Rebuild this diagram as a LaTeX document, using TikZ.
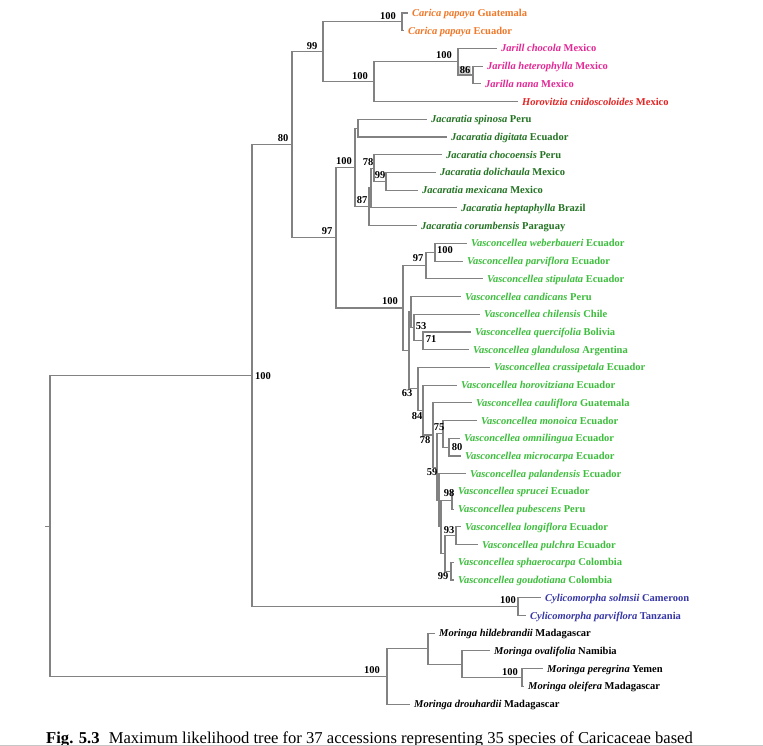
\documentclass[tikz,border=0pt]{standalone}
\usepackage{fontspec}
\setmainfont{Liberation Serif}
\definecolor{carica}{RGB}{240,120,40}
\definecolor{jarilla}{RGB}{228,40,150}
\definecolor{horo}{RGB}{228,35,35}
\definecolor{jacar}{RGB}{35,115,35}
\definecolor{vasc}{RGB}{60,190,60}
\definecolor{cyli}{RGB}{55,55,165}
\definecolor{branch}{RGB}{130,130,130}
\newcommand{\lf}[6]{%
  \coordinate (#1) at (#3,#4);
  \draw[br] (#2) |- (#1);
  \node[leaf,text=#5] (t#1) at ([xshift=4pt,yshift=-3.5pt]#1) {#6};}
\begin{document}
\begin{tikzpicture}[x=1pt,y=-1pt,
  br/.style={draw=branch,line width=1.1pt},
  leaf/.style={anchor=base west,inner sep=0pt,font=\fontsize{10.5}{12}\selectfont\bfseries},
  bs/.style={inner sep=0pt,font=\fontsize{10.5}{12}\selectfont\bfseries}]
\useasboundingbox (0,0) rectangle (763,746);
\fill[white] (0,0) rectangle (763,746);
% internal nodes
\coordinate (Root) at (50,526.1);
\coordinate (Stub) at (45,526.1);
\coordinate (Ing) at (252,375.7);
\coordinate (N80) at (292,144.8);
\coordinate (N99) at (323,51.8);
\coordinate (Car) at (402,21.9);
\coordinate (JH) at (374,81.7);
\coordinate (Jar) at (458,61.7);
\coordinate (J86) at (473,75.0);
\coordinate (N97) at (336,237.8);
\coordinate (Jac) at (355,167.5);
\coordinate (JacA) at (358,128.2);
\coordinate (J87) at (369,206.8);
\coordinate (JacB) at (371,188.0);
\coordinate (J78) at (374,168.1);
\coordinate (J99) at (386,181.3);
\coordinate (V100) at (403,308.0);
\coordinate (V97) at (426,265.5);
\coordinate (V100b) at (435,252.3);
\coordinate (Vg) at (409,350.4);
\coordinate (VA) at (411,312.0);
\coordinate (V53) at (414,327.6);
\coordinate (V71) at (423,340.9);
\coordinate (V63) at (418,388.8);
\coordinate (V84) at (423,410.1);
\coordinate (V78) at (433,435.0);
\coordinate (V59) at (437,467.1);
\coordinate (V75) at (443,433.9);
\coordinate (V80) at (449,447.2);
\coordinate (Vx) at (439,500.3);
\coordinate (Vb) at (441,526.9);
\coordinate (V98) at (452,500.3);
\coordinate (Va) at (445,553.5);
\coordinate (V93) at (456,535.8);
\coordinate (V99) at (451,571.2);
\coordinate (Cyl) at (518,606.7);
\coordinate (Mor) at (387,676.4);
\coordinate (M428) at (428,648.7);
\coordinate (M462) at (462,664.2);
\coordinate (M522) at (522,677.5);
% internal connectors
\draw[br] (Stub) -- (Root);
\draw[br] (Root) |- (Ing);
\draw[br] (Root) |- (Mor);
\draw[br] (Ing) |- (N80);
\draw[br] (Ing) |- (Cyl);
\draw[br] (N80) |- (N99);
\draw[br] (N80) |- (N97);
\draw[br] (N99) |- (Car);
\draw[br] (N99) |- (JH);
\draw[br] (JH) |- (Jar);
\draw[br] (Jar) |- (J86);
\draw[br] (N97) |- (Jac);
\draw[br] (N97) |- (V100);
\draw[br] (Jac) |- (JacA);
\draw[br] (Jac) |- (J87);
\draw[br] (J87) |- (JacB);
\draw[br] (JacB) |- (J78);
\draw[br] (J78) |- (J99);
\draw[br] (V100) |- (V97);
\draw[br] (V100) |- (Vg);
\draw[br] (V97) |- (V100b);
\draw[br] (Vg) |- (VA);
\draw[br] (Vg) |- (V63);
\draw[br] (VA) |- (V53);
\draw[br] (V53) |- (V71);
\draw[br] (V63) |- (V84);
\draw[br] (V84) |- (V78);
\draw[br] (V78) |- (V59);
\draw[br] (V59) |- (V75);
\draw[br] (V75) |- (V80);
\draw[br] (V59) |- (Vx);
\draw[br] (Vx) |- (Vb);
\draw[br] (Vb) |- (V98);
\draw[br] (Vb) |- (Va);
\draw[br] (Va) |- (V93);
\draw[br] (Va) |- (V99);
\draw[br] (Mor) |- (M428);
\draw[br] (M428) |- (M462);
\draw[br] (M462) |- (M522);
% leaves
\lf{l1}{Car}{408}{13.0}{carica}{\textit{Carica papaya} Guatemala}
\lf{l2}{Car}{404}{30.7}{carica}{\textit{Carica papaya} Ecuador}
\lf{l3}{Jar}{497}{48.4}{jarilla}{\textit{Jarill chocola} Mexico}
\lf{l4}{J86}{483}{66.2}{jarilla}{\textit{Jarilla heterophylla} Mexico}
\lf{l5}{J86}{481}{83.9}{jarilla}{\textit{Jarilla nana} Mexico}
\lf{l6}{JH}{518}{101.6}{horo}{\textit{Horovitzia cnidoscoloides} Mexico}
\lf{l7}{JacA}{427}{119.3}{jacar}{\textit{Jacaratia spinosa} Peru}
\lf{l8}{JacA}{447}{137.0}{jacar}{\textit{Jacaratia digitata} Ecuador}
\lf{l9}{J78}{442}{154.8}{jacar}{\textit{Jacaratia chocoensis} Peru}
\lf{l10}{J99}{436}{172.5}{jacar}{\textit{Jacaratia dolichaula} Mexico}
\lf{l11}{J99}{418}{190.2}{jacar}{\textit{Jacaratia mexicana} Mexico}
\lf{l12}{JacB}{457}{207.9}{jacar}{\textit{Jacaratia heptaphylla} Brazil}
\lf{l13}{J87}{417}{225.6}{jacar}{\textit{Jacaratia corumbensis} Paraguay}
\lf{l14}{V100b}{467}{243.4}{vasc}{\textit{Vasconcellea weberbaueri} Ecuador}
\lf{l15}{V100b}{463}{261.1}{vasc}{\textit{Vasconcellea parviflora} Ecuador}
\lf{l16}{V97}{483}{278.8}{vasc}{\textit{Vasconcellea stipulata} Ecuador}
\lf{l17}{VA}{461}{296.5}{vasc}{\textit{Vasconcellea candicans} Peru}
\lf{l18}{V53}{480}{314.2}{vasc}{\textit{Vasconcellea chilensis} Chile}
\lf{l19}{V71}{471}{332.0}{vasc}{\textit{Vasconcellea quercifolia} Bolivia}
\lf{l20}{V71}{469}{349.7}{vasc}{\textit{Vasconcellea glandulosa} Argentina}
\lf{l21}{V63}{490}{367.4}{vasc}{\textit{Vasconcellea crassipetala} Ecuador}
\lf{l22}{V84}{457}{385.1}{vasc}{\textit{Vasconcellea horovitziana} Ecuador}
\lf{l23}{V78}{472}{402.8}{vasc}{\textit{Vasconcellea cauliflora} Guatemala}
\lf{l24}{V75}{477}{420.6}{vasc}{\textit{Vasconcellea monoica} Ecuador}
\lf{l25}{V80}{460}{438.3}{vasc}{\textit{Vasconcellea omnilingua} Ecuador}
\lf{l26}{V80}{461}{456.0}{vasc}{\textit{Vasconcellea microcarpa} Ecuador}
\lf{l27}{Vx}{466}{473.7}{vasc}{\textit{Vasconcellea palandensis} Ecuador}
\lf{l28}{V98}{454}{491.4}{vasc}{\textit{Vasconcellea sprucei} Ecuador}
\lf{l29}{V98}{454}{509.2}{vasc}{\textit{Vasconcellea pubescens} Peru}
\lf{l30}{V93}{461}{526.9}{vasc}{\textit{Vasconcellea longiflora} Ecuador}
\lf{l31}{V93}{478}{544.6}{vasc}{\textit{Vasconcellea pulchra} Ecuador}
\lf{l32}{V99}{454}{562.3}{vasc}{\textit{Vasconcellea sphaerocarpa} Colombia}
\lf{l33}{V99}{454}{580.0}{vasc}{\textit{Vasconcellea goudotiana} Colombia}
\lf{l34}{Cyl}{541}{597.8}{cyli}{\textit{Cylicomorpha solmsii} Cameroon}
\lf{l35}{Cyl}{526}{615.5}{cyli}{\textit{Cylicomorpha parviflora} Tanzania}
\lf{l36}{M428}{435}{633.2}{black}{\textit{Moringa hildebrandii} Madagascar}
\lf{l37}{M462}{490}{650.9}{black}{\textit{Moringa ovalifolia} Namibia}
\lf{l38}{M522}{543}{668.6}{black}{\textit{Moringa peregrina} Yemen}
\lf{l39}{M522}{524}{686.4}{black}{\textit{Moringa oleifera} Madagascar}
\lf{l40}{Mor}{410}{704.1}{black}{\textit{Moringa drouhardii} Madagascar}
% bootstrap values
\node[bs,anchor=west] (bIng) at ([xshift=3pt]Ing) {100};
\node[bs] (b80) at (283,138) {80};
\node[bs] (b99) at (312,46) {99};
\node[bs] (b97) at (327,231) {97};
\node[bs] (bCar) at (388,16) {100};
\node[bs] (bJH) at (360,76) {100};
\node[bs] (bJar) at (444,55) {100};
\node[bs,fill=gray!35,inner sep=0.6pt] (b86) at (465,70) {86};
\node[bs] (bJac) at (344,161) {100};
\node[bs] (bJ78) at (368,162) {78};
\node[bs] (bJ99) at (380,175) {99};
\node[bs] (bJ87) at (362,200) {87};
\node[bs] (bV100) at (390,301) {100};
\node[bs] (bV97) at (418,258) {97};
\node[bs] (bV100b) at (445,250) {100};
\node[bs] (bV53) at (421,326) {53};
\node[bs] (bV71) at (431,339) {71};
\node[bs] (bV63) at (407,393) {63};
\node[bs] (bV84) at (417,416) {84};
\node[bs] (bV78) at (425,440) {78};
\node[bs] (bV75) at (439,427) {75};
\node[bs] (bV80) at (457,447) {80};
\node[bs] (bV59) at (432,472) {59};
\node[bs] (bV98) at (449,493) {98};
\node[bs] (bV93) at (449,530) {93};
\node[bs] (bV99) at (443,576) {99};
\node[bs] (bCyl) at (508,600) {100};
\node[bs] (bMor) at (372,670) {100};
\node[bs] (bM522) at (510,672) {100};
% caption
\node[anchor=base west,inner sep=0pt,font=\fontsize{16.6}{19}\selectfont] (cap) at (46,743)
  {\textbf{Fig. 5.3}\hspace{0.55em}Maximum likelihood tree for 37 accessions representing 35 species of Caricaceae based};
\coordinate (rl) at (0,745.6);
\coordinate (rr) at (763,745.6);
\draw[gray!45,line width=0.8pt] (rl) -- (rr);
\end{tikzpicture}
\end{document}
